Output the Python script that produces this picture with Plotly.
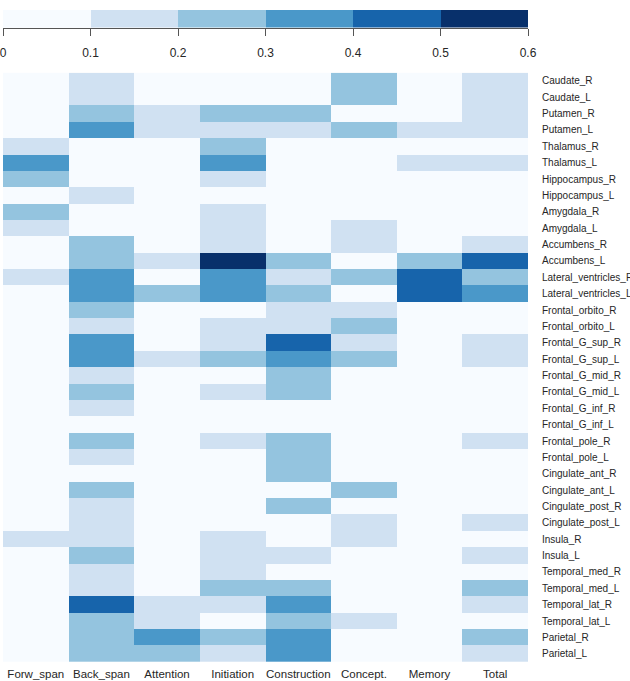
import plotly.graph_objects as go

# ---------------- data ----------------
measures = ["Forw_span", "Back_span", "Attention", "Initiation",
            "Construction", "Concept.", "Memory", "Total"]

regions = ["Caudate_R", "Caudate_L", "Putamen_R", "Putamen_L", "Thalamus_R",
           "Thalamus_L", "Hippocampus_R", "Hippocampus_L", "Amygdala_R",
           "Amygdala_L", "Accumbens_R", "Accumbens_L", "Lateral_ventricles_R",
           "Lateral_ventricles_L", "Frontal_orbito_R", "Frontal_orbito_L",
           "Frontal_G_sup_R", "Frontal_G_sup_L", "Frontal_G_mid_R",
           "Frontal_G_mid_L", "Frontal_G_inf_R", "Frontal_G_inf_L",
           "Frontal_pole_R", "Frontal_pole_L", "Cingulate_ant_R",
           "Cingulate_ant_L", "Cingulate_post_R", "Cingulate_post_L",
           "Insula_R", "Insula_L", "Temporal_med_R", "Temporal_med_L",
           "Temporal_lat_R", "Temporal_lat_L", "Parietal_R", "Parietal_L"]

forw_span = [0.04, 0.05, 0.03, 0.06, 0.14, 0.34, 0.24, 0.07, 0.25, 0.13,
             0.05, 0.04, 0.12, 0.06, 0.03, 0.02, 0.05, 0.04, 0.03, 0.06,
             0.04, 0.02, 0.03, 0.05, 0.04, 0.06, 0.03, 0.05, 0.13, 0.06,
             0.04, 0.03, 0.07, 0.05, 0.04, 0.03]
back_span = [0.15, 0.14, 0.25, 0.35, 0.06, 0.04, 0.05, 0.13, 0.07, 0.05,
             0.24, 0.26, 0.36, 0.34, 0.23, 0.14, 0.35, 0.36, 0.15, 0.24,
             0.13, 0.06, 0.25, 0.14, 0.08, 0.26, 0.16, 0.15, 0.14, 0.24,
             0.15, 0.16, 0.45, 0.27, 0.26, 0.25]
attention = [0.05, 0.04, 0.14, 0.15, 0.06, 0.03, 0.05, 0.04, 0.02, 0.06,
             0.07, 0.13, 0.05, 0.24, 0.04, 0.03, 0.06, 0.15, 0.04, 0.05,
             0.03, 0.02, 0.06, 0.04, 0.05, 0.03, 0.04, 0.06, 0.05, 0.07,
             0.04, 0.08, 0.14, 0.16, 0.35, 0.26]
initiation = [0.06, 0.05, 0.26, 0.14, 0.25, 0.35, 0.15, 0.07, 0.16, 0.14,
              0.13, 0.56, 0.36, 0.34, 0.08, 0.15, 0.14, 0.24, 0.06, 0.13,
              0.05, 0.04, 0.15, 0.06, 0.05, 0.07, 0.04, 0.06, 0.16, 0.14,
              0.15, 0.25, 0.13, 0.08, 0.26, 0.15]
construction = [0.04, 0.06, 0.25, 0.15, 0.05, 0.07, 0.03, 0.05, 0.04, 0.06,
                0.08, 0.24, 0.14, 0.26, 0.13, 0.15, 0.46, 0.36, 0.25, 0.26,
                0.05, 0.04, 0.24, 0.25, 0.26, 0.07, 0.24, 0.06, 0.08, 0.14,
                0.07, 0.25, 0.37, 0.26, 0.35, 0.36]
concept = [0.25, 0.26, 0.05, 0.24, 0.04, 0.03, 0.06, 0.05, 0.04, 0.14,
           0.15, 0.06, 0.25, 0.07, 0.14, 0.26, 0.15, 0.24, 0.05, 0.04,
           0.03, 0.05, 0.06, 0.04, 0.07, 0.25, 0.06, 0.15, 0.14, 0.05,
           0.04, 0.06, 0.08, 0.13, 0.05, 0.04]
memory = [0.03, 0.05, 0.06, 0.14, 0.04, 0.15, 0.05, 0.03, 0.04, 0.06,
          0.05, 0.26, 0.46, 0.45, 0.04, 0.05, 0.03, 0.06, 0.04, 0.05,
          0.02, 0.03, 0.04, 0.05, 0.03, 0.04, 0.06, 0.05, 0.04, 0.03,
          0.05, 0.06, 0.04, 0.03, 0.05, 0.04]
total = [0.15, 0.16, 0.14, 0.15, 0.07, 0.13, 0.06, 0.05, 0.07, 0.08,
         0.14, 0.45, 0.26, 0.36, 0.06, 0.07, 0.14, 0.15, 0.05, 0.06,
         0.04, 0.05, 0.13, 0.07, 0.05, 0.06, 0.08, 0.14, 0.07, 0.15,
         0.06, 0.26, 0.14, 0.08, 0.25, 0.15]

bin_edges = [0, 0.1, 0.2, 0.3, 0.4, 0.5, 0.6]
bin_labels = ["0", "0.1", "0.2", "0.3", "0.4", "0.5", "0.6"]
bin_colors = ["#F7FBFF", "#D0E1F2", "#94C4DF", "#4A98C9", "#1764AB", "#08306B"]

# ---------------- build ----------------
columns = [forw_span, back_span, attention, initiation,
           construction, concept, memory, total]
z = [[col[i] for col in columns] for i in range(len(regions))]

zmin, zmax = bin_edges[0], bin_edges[-1]
colorscale = []
for k, c in enumerate(bin_colors):
    lo = (bin_edges[k] - zmin) / (zmax - zmin)
    hi = (bin_edges[k + 1] - zmin) / (zmax - zmin)
    colorscale.append([lo, c])
    colorscale.append([hi, c])

legend_z = [[(bin_edges[k] + bin_edges[k + 1]) / 2 for k in range(len(bin_colors))]]

W, H = 630, 681
m_l, m_r, m_t, m_b = 2.7, 630 - 528.3, 10, 19
plot_h = H - m_t - m_b
main_top_px = 72.7
legend_bottom_px = 27.5
main_dom_top = (H - main_top_px - m_b) / plot_h
legend_dom_bot = (H - legend_bottom_px - m_b) / plot_h

font_family = "Arial, Liberation Sans, sans-serif"
text_color = "#262626"

fig = go.Figure()
fig.add_trace(go.Heatmap(
    z=z, x=measures, y=regions,
    coloraxis="coloraxis",
    xaxis="x", yaxis="y",
    hoverongaps=False,
))
fig.add_trace(go.Heatmap(
    z=legend_z, x=bin_edges, y=[0, 1],
    coloraxis="coloraxis",
    xaxis="x2", yaxis="y2",
    hoverinfo="skip",
))

fig.update_layout(
    width=W, height=H,
    margin=dict(l=m_l, r=m_r, t=m_t, b=m_b, pad=0, autoexpand=False),
    paper_bgcolor="white", plot_bgcolor="white",
    font=dict(family=font_family, color=text_color),
    coloraxis=dict(colorscale=colorscale, cmin=zmin, cmax=zmax, showscale=False),
    xaxis=dict(domain=[0, 1], anchor="y", showgrid=False, zeroline=False,
               showline=False, ticks="outside", ticklen=1,
               tickcolor="rgba(0,0,0,0)", ticklabeloverflow="allow",
               tickfont=dict(size=11.5, color=text_color), fixedrange=True),
    yaxis=dict(domain=[0, main_dom_top], anchor="x", side="right",
               autorange="reversed", showgrid=False, zeroline=False,
               showline=False, ticks="outside", ticklen=11,
               tickcolor="rgba(0,0,0,0)", ticklabeloverflow="allow",
               tickfont=dict(size=10, color=text_color), fixedrange=True),
    xaxis2=dict(domain=[0, 1], anchor="y2", range=[zmin, zmax],
                showgrid=False, zeroline=False, showline=True,
                linecolor="#555555", linewidth=1, ticks="outside", ticklen=7,
                tickcolor="#555555", tickwidth=1, ticklabelstandoff=7,
                tickvals=bin_edges, ticktext=bin_labels,
                ticklabeloverflow="allow",
                tickfont=dict(size=12, color=text_color), fixedrange=True),
    yaxis2=dict(domain=[legend_dom_bot, 1], anchor="x2", range=[0, 1],
                showgrid=False, zeroline=False, showline=False,
                showticklabels=False, ticks="", fixedrange=True),
)

fig.write_html("out.html", config={"displayModeBar": False},
               post_script="document.body.style.margin='0';")
